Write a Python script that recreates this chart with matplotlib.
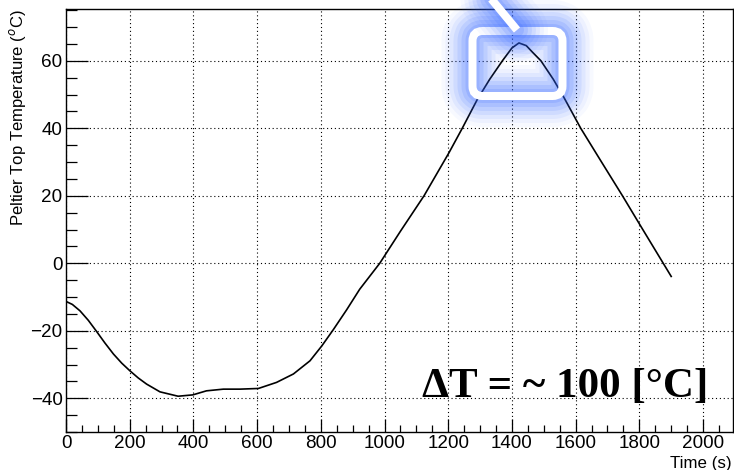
import matplotlib
matplotlib.use('Agg')
import matplotlib.pyplot as plt
from matplotlib.patches import FancyBboxPatch
from matplotlib.lines import Line2D
from matplotlib.transforms import IdentityTransform
from matplotlib.ticker import MultipleLocator

# Peltier top temperature vs time
time_s = [0, 20, 44, 70, 96, 122, 149, 175, 201, 227, 253, 295, 352, 398, 441, 494,
          546, 604, 661, 714, 766, 803, 839, 881, 922, 985, 1050, 1124, 1202, 1244,
          1291, 1330, 1370, 1400, 1422, 1445, 1465, 1491, 1530, 1564, 1616, 1680,
          1747, 1805, 1900]
temp_c = [-11.3, -12.2, -14.1, -16.9, -20.2, -23.6, -26.9, -29.6, -31.9, -34.0, -35.8,
          -38.1, -39.4, -39.0, -37.8, -37.3, -37.3, -37.1, -35.3, -32.8, -28.9, -24.5,
          -19.7, -13.8, -7.7, 0.0, 9.5, 20.0, 32.7, 40.0, 48.5, 54.5, 60.0, 63.8,
          65.3, 64.5, 62.5, 60.0, 54.5, 49.0, 40.0, 30.2, 20.0, 10.9, -3.9]

plt.rcParams['font.family'] = ['Liberation Sans', 'DejaVu Sans']
plt.rcParams['mathtext.fontset'] = 'custom'
plt.rcParams['mathtext.rm'] = 'Liberation Sans'

W, H = 734, 470
fig = plt.figure(figsize=(W / 100, H / 100), dpi=100)
ax = fig.add_axes([66 / W, 38 / H, 667 / W, 423.5 / H])

ax.plot(time_s, temp_c, color='black', lw=1.2, zorder=3)
ax.set_xlim(0, 2094)
ax.set_ylim(-50, 75.5)

ax.xaxis.set_major_locator(MultipleLocator(200))
ax.xaxis.set_minor_locator(MultipleLocator(50))
ax.yaxis.set_major_locator(MultipleLocator(20))
ax.yaxis.set_minor_locator(MultipleLocator(5))
ax.grid(True, which='major', color='black', lw=0.8, ls=(0, (1, 2.5)))
ax.tick_params(axis='both', which='both', direction='in', width=0.9, labelsize=13.6, pad=2.5)
ax.tick_params(axis='y', which='major', length=15.5)
ax.tick_params(axis='y', which='minor', length=7.7)
ax.tick_params(axis='x', which='major', length=9.6)
ax.tick_params(axis='x', which='minor', length=4.8)
for s in ax.spines.values():
    s.set_linewidth(1.0)

ax.set_xlabel('Time (s)', fontsize=12.2, ha='right')
ax.xaxis.set_label_coords(0.9985, -0.057)
ax.set_ylabel(r'Peltier Top Temperature ($^{o}$C)', fontsize=12, ha='right')
ax.yaxis.set_label_coords(-0.057, 0.997)

ax.text(0.9625, 0.0826, 'ΔT = ~ 100 [°C]', transform=ax.transAxes, ha='right',
        va='baseline', fontsize=31, fontweight='bold',
        family=['Liberation Serif', 'DejaVu Serif'])

# glowing highlight around the peak (pixel coordinates, y up)
blue = '#3366ff'
ident = IdentityTransform()
rx0, ry0, rw, rh = 472.5, H - 96, 90, 65
px_line = ([488, 517], [H + 5, H - 30])
for lw, a in [(62, 0.04), (54, 0.05), (46, 0.07), (38, 0.09), (30, 0.11),
              (22, 0.13), (14, 0.15)]:
    fig.add_artist(FancyBboxPatch((rx0, ry0), rw, rh, boxstyle='round,pad=0,rounding_size=10',
                                  fc='none', ec=blue, lw=lw * 0.72, alpha=a,
                                  transform=ident, joinstyle='round'))
    fig.add_artist(Line2D(*px_line, color=blue, lw=lw * 0.72, alpha=a,
                          transform=ident, solid_capstyle='round'))
fig.add_artist(FancyBboxPatch((rx0, ry0), rw, rh, boxstyle='round,pad=0,rounding_size=10',
                              fc='none', ec='white', lw=8 * 0.72, transform=ident))
fig.add_artist(Line2D(*px_line, color='white', lw=8 * 0.72, transform=ident,
                      solid_capstyle='butt'))

fig.savefig('out.png', dpi=100)
